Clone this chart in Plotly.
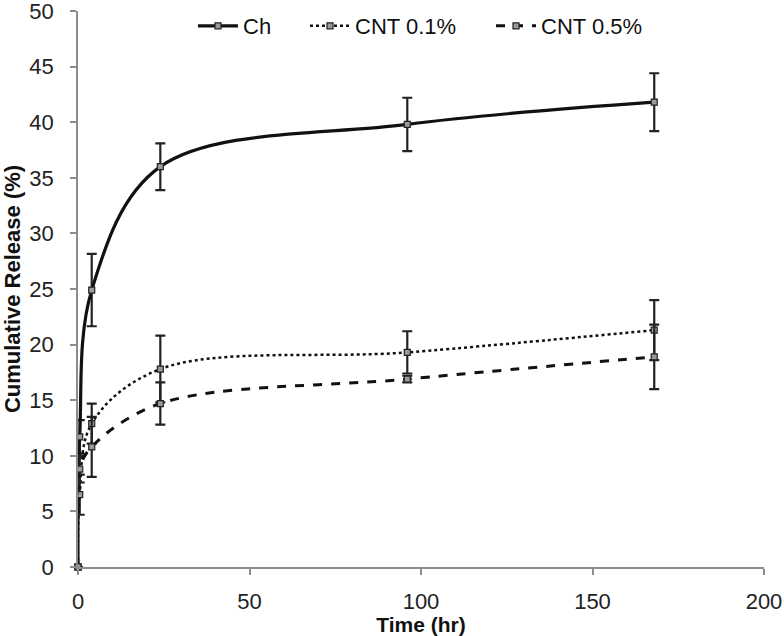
import plotly.graph_objects as go

time_hr = [0, 0.5, 4, 24, 96, 168]

ch = [0, 11.7, 24.9, 36.0, 39.8, 41.8]
ch_err = [0, 1.5, 3.25, 2.1, 2.4, 2.6]

cnt01 = [0, 6.5, 12.9, 17.8, 19.3, 21.3]
cnt01_err = [0, 1.8, 1.8, 3.0, 1.9, 2.7]

cnt05 = [0, 8.8, 10.8, 14.7, 16.9, 18.9]
cnt05_err = [0, 1.2, 2.7, 1.9, 0.3, 2.9]

series = [
    ("Ch", ch, ch_err, "solid", 3.2, "legend"),
    ("CNT 0.1%", cnt01, cnt01_err, "dot", 2.5, "legend2"),
    ("CNT 0.5%", cnt05, cnt05_err, "dash", 3, "legend3"),
]

fig = go.Figure()
for name, vals, errs, dash, w, lg in series:
    fig.add_trace(go.Scatter(
        x=time_hr, y=vals, name=name, mode="lines+markers", legend=lg,
        line=dict(color="#111111", width=w, dash=dash, shape="spline", smoothing=1),
        marker=dict(symbol="square", size=6, color="#9a9a9a",
                    line=dict(color="#222222", width=1.2)),
        error_y=dict(type="data", array=errs, visible=True,
                     color="#222222", thickness=2.2, width=5),
        cliponaxis=False,
    ))

L, R, T, B = 78, 20, 11, 69
W, H = 784, 636
pw = W - L - R


def lx(px):
    return (px - L) / pw


leg_common = dict(orientation="h", xanchor="left", y=0.973, yanchor="middle",
                  bgcolor="rgba(0,0,0,0)", font=dict(size=22, color="#111111"),
                  itemwidth=40)

fig.update_layout(
    width=W, height=H,
    paper_bgcolor="white", plot_bgcolor="white",
    margin=dict(l=L, r=R, t=T, b=B, autoexpand=False),
    font=dict(family="Liberation Sans, Arial, sans-serif", size=21, color="#222222"),
    showlegend=True,
    legend=dict(x=lx(193), **leg_common),
    legend2=dict(x=lx(305), **leg_common),
    legend3=dict(x=lx(491), **leg_common),
    xaxis=dict(range=[0, 200], tickvals=[0, 50, 100, 150, 200],
               showgrid=False, zeroline=False, automargin=True,
               ticklabeloverflow="allow",
               showline=True, linecolor="#8c8c8c", linewidth=1.5,
               ticks="outside", ticklen=6, tickcolor="#8c8c8c", tickwidth=1.5,
               ticklabelstandoff=8,
               title=dict(text="<b>Time (hr)</b>", font=dict(size=21, color="#111111"),
                          standoff=2),
               tickfont=dict(size=22, color="#222222")),
    yaxis=dict(range=[0, 50], tickvals=list(range(0, 51, 5)),
               showgrid=False, zeroline=False, automargin=False,
               ticklabeloverflow="allow",
               showline=True, linecolor="#8c8c8c", linewidth=1.5,
               ticks="outside", ticklen=6, tickcolor="#8c8c8c", tickwidth=1.5,
               ticklabelstandoff=12,
               title=dict(text="<b>Cumulative Release (%)</b>", font=dict(size=22, color="#111111")),
               tickfont=dict(size=22, color="#222222")),
)

fig.write_html("out.html", config={"displayModeBar": False},
               post_script="document.body.style.margin='0';document.body.style.overflow='hidden';")
